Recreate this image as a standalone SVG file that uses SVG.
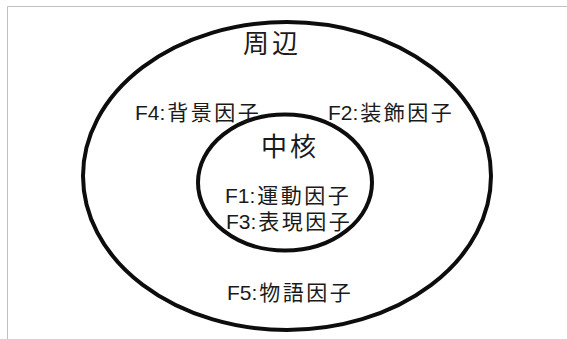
<svg xmlns="http://www.w3.org/2000/svg" width="567" height="339" viewBox="0 0 567 339">
<style>
.ring{fill:none;stroke:#0d0d0d;stroke-width:4}
.frame{fill:none;stroke:#c0c0c0;stroke-width:1}
text{font-family:"Liberation Sans","Noto Sans CJK JP",sans-serif;fill:#1a1a1a}
.big{font-size:26px;letter-spacing:3px}
.lbl{font-size:21px}
.cjk{letter-spacing:2.5px}
</style>
<rect width="567" height="339" fill="#ffffff"/>
<path class="frame" d="M7.5 339 V6.5 H567"/>
<g id="outer">
<ellipse class="ring" cx="287" cy="176" rx="204" ry="154"/>
<text class="big" x="243" y="53">周辺</text>
</g>
<g id="inner">
<ellipse class="ring" cx="285" cy="182.5" rx="87" ry="68"/>
<text class="big" x="261" y="156">中核</text>
</g>
<g id="f1"><text class="lbl" x="225" y="203">F1:<tspan class="cjk" dx="2">運動因子</tspan></text></g>
<g id="f3"><text class="lbl" x="226" y="229">F3:<tspan class="cjk" dx="2">表現因子</tspan></text></g>
<g id="f4"><text class="lbl" x="135" y="120">F4:<tspan class="cjk" dx="2">背景因子</tspan></text></g>
<g id="f2"><text class="lbl" x="328" y="120">F2:<tspan class="cjk" dx="2">装飾因子</tspan></text></g>
<g id="f5"><text class="lbl" x="227" y="300">F5:<tspan class="cjk" dx="2">物語因子</tspan></text></g>
<g id="connectors"></g>
</svg>
